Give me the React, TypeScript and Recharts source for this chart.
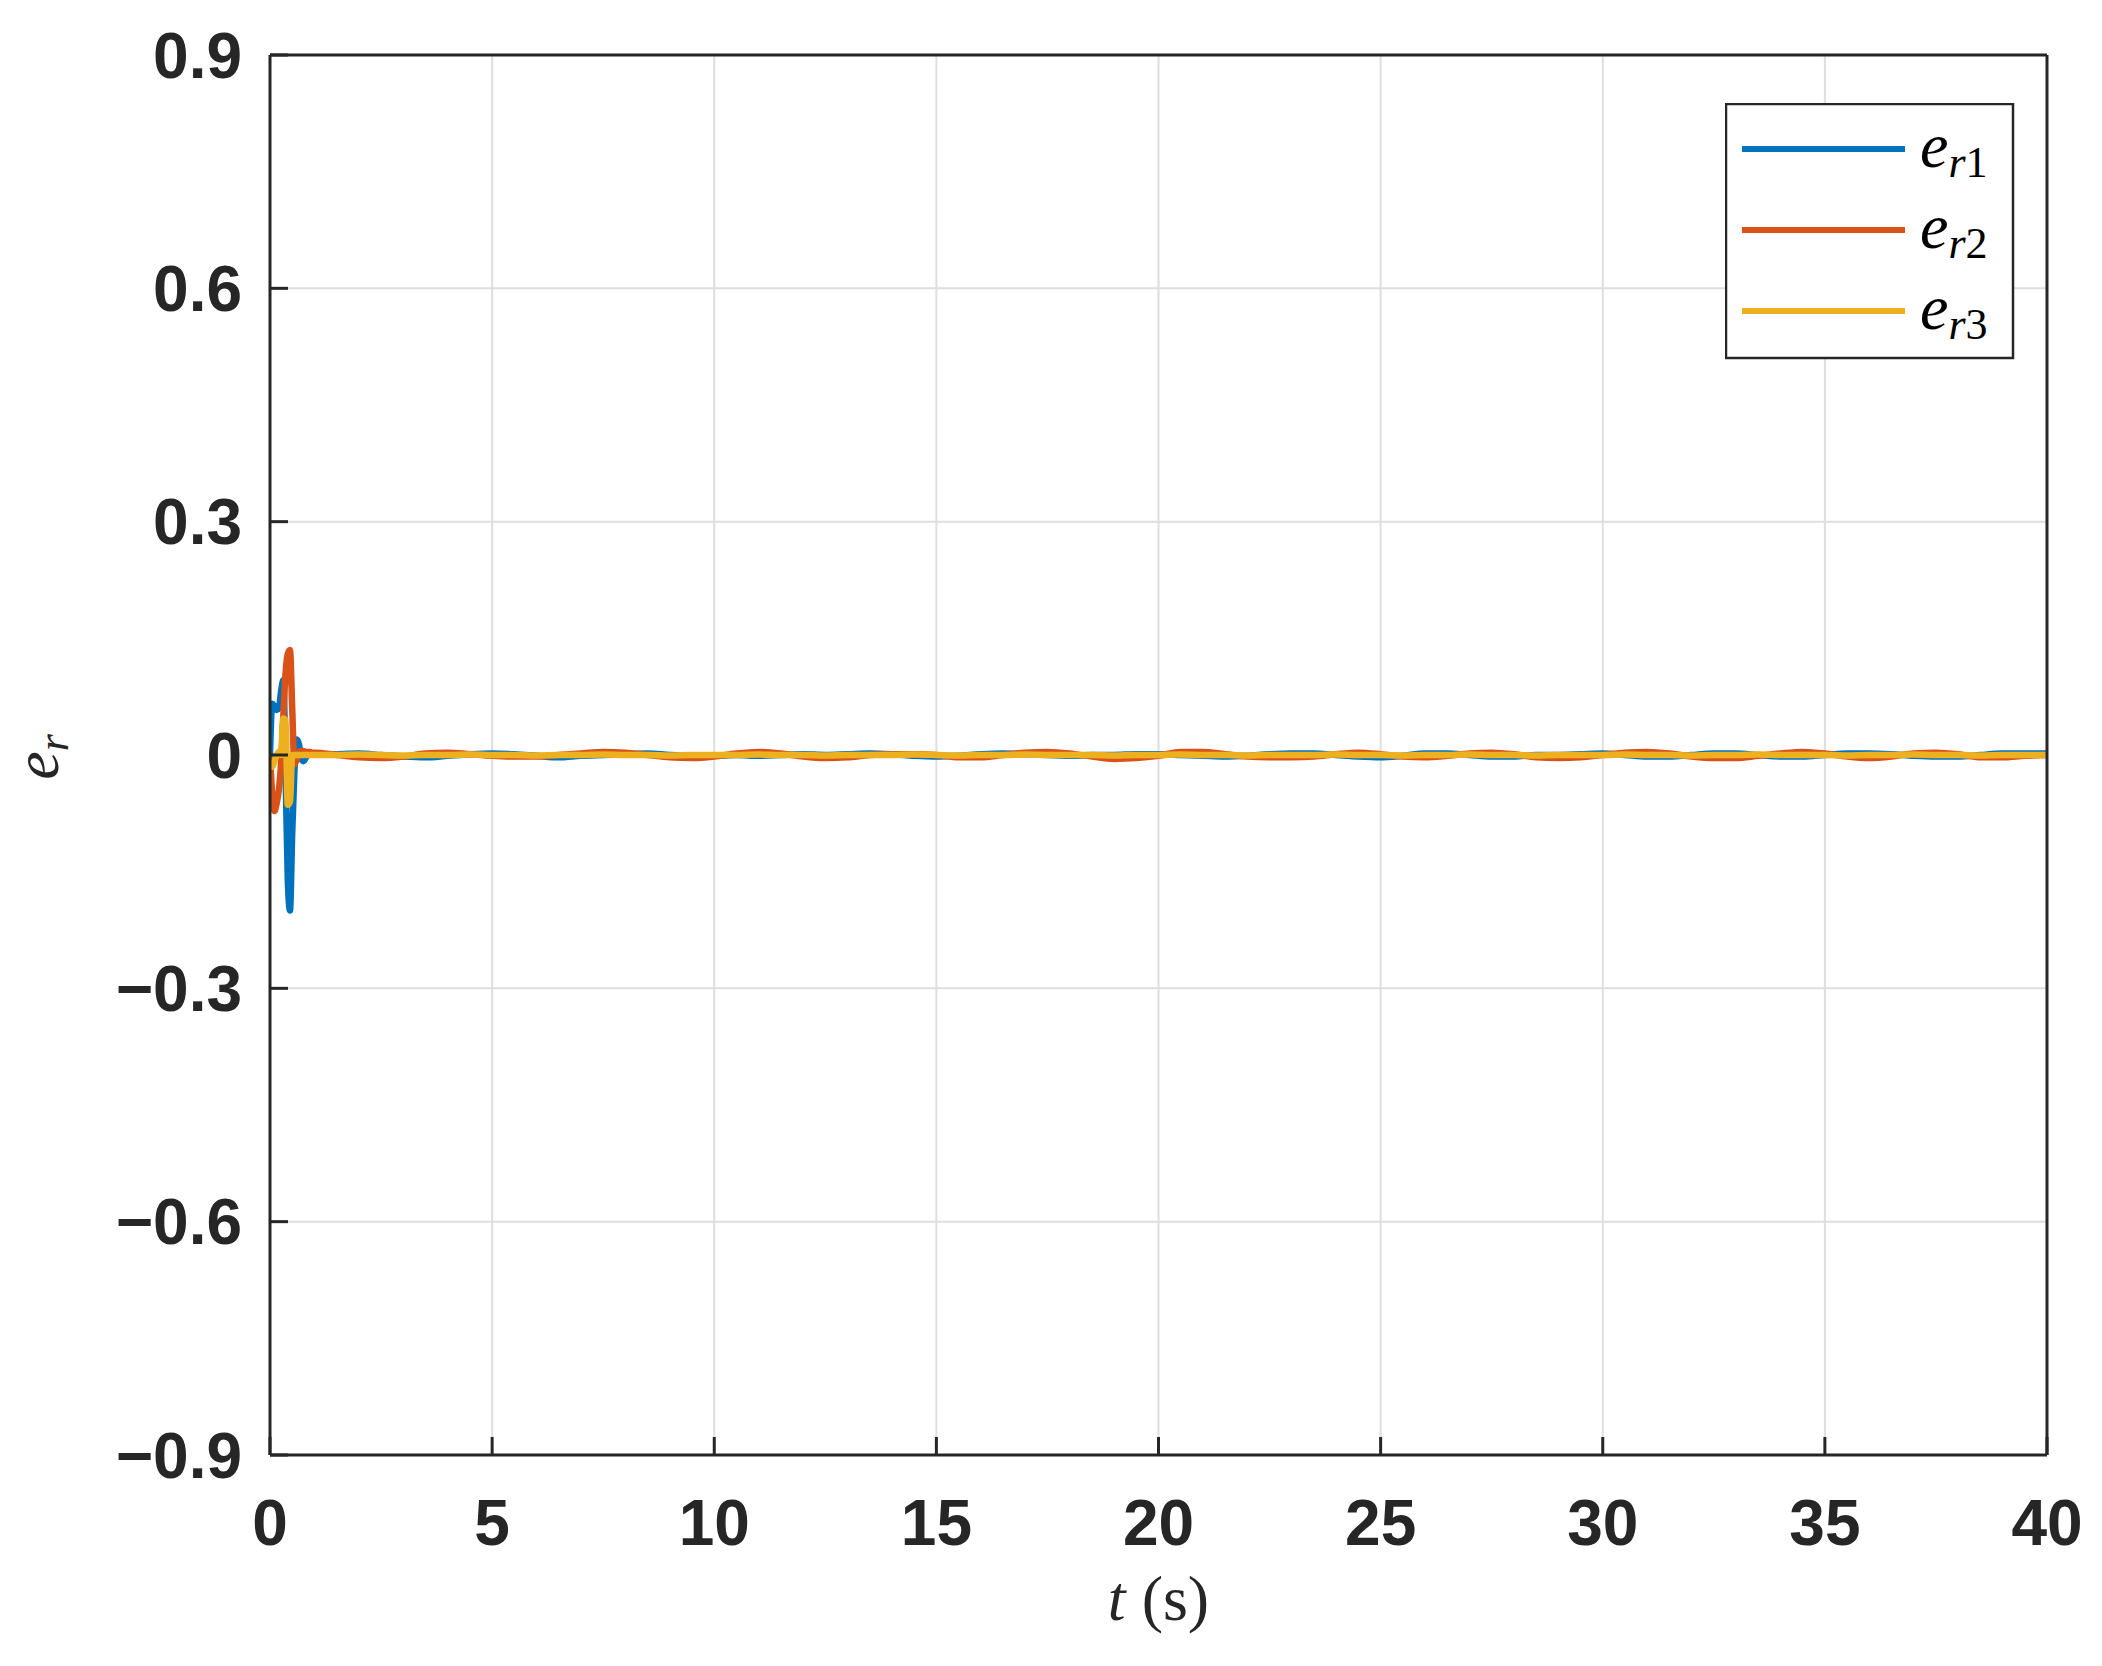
import React from 'react';
import { LineChart, Line, XAxis, YAxis, CartesianGrid, Legend, Label } from 'recharts';

// time samples (s): fine during the initial transient, coarser afterwards
const timeTransient = [0, 0.05, 0.1, 0.15, 0.2, 0.25, 0.3, 0.35, 0.4, 0.45, 0.5, 0.55, 0.6, 0.65, 0.7, 0.75, 0.8, 0.85, 0.9, 0.95, 1.0];
const timeSteady = [
  1.5, 2, 2.5, 3, 3.5, 4, 4.5, 5, 5.5, 6, 6.5, 7, 7.5, 8, 8.5, 9, 9.5, 10,
  10.5, 11, 11.5, 12, 12.5, 13, 13.5, 14, 14.5, 15, 15.5, 16, 16.5, 17, 17.5, 18, 18.5, 19, 19.5, 20,
  20.5, 21, 21.5, 22, 22.5, 23, 23.5, 24, 24.5, 25, 25.5, 26, 26.5, 27, 27.5, 28, 28.5, 29, 29.5, 30,
  30.5, 31, 31.5, 32, 32.5, 33, 33.5, 34, 34.5, 35, 35.5, 36, 36.5, 37, 37.5, 38, 38.5, 39, 39.5, 40,
];

// e_r1
const er1Transient = [0.0, 0.066, 0.063, 0.058, 0.06, 0.082, 0.096, -0.02, -0.16, -0.2, -0.1, -0.02, 0.02, 0.014, -0.004, -0.008, -0.004, 0.0, 0.001, 0.002, 0.001];
const er1Steady = [
  0.001, 0.002, 0.0, -0.002, -0.003, -0.001, 0.001, 0.002, 0.001, -0.001, -0.003, -0.001, 0.0, 0.001, 0.002, 0.0, -0.001, -0.001,
  0.0, -0.001, 0.0, 0.001, 0.0, 0.001, 0.002, 0.001, -0.001, -0.002, -0.001, 0.001, 0.002, 0.001, 0.0, -0.001, 0.0, 0.0, 0.001, 0.001,
  0.0, -0.001, -0.002, -0.001, 0.001, 0.002, 0.002, 0.0, -0.002, -0.003, -0.001, 0.002, 0.002, 0.0, -0.002, -0.002, 0.0, 0.0, 0.001, 0.002,
  0.0, -0.002, -0.002, 0.0, 0.002, 0.002, 0.0, -0.002, -0.002, 0.0, 0.002, 0.002, 0.001, -0.001, -0.002, -0.002, 0.0, 0.002, 0.002, 0.002,
];

// e_r2
const er2Transient = [0.0, -0.05, -0.072, -0.062, -0.045, -0.01, 0.05, 0.105, 0.13, 0.135, 0.06, -0.012, -0.006, 0.003, 0.005, 0.005, 0.004, 0.004, 0.004, 0.003, 0.003];
const er2Steady = [
  0.0, -0.003, -0.004, -0.002, 0.002, 0.003, 0.001, -0.001, -0.002, -0.002, 0.0, 0.002, 0.004, 0.003, 0.0, -0.003, -0.004, -0.002,
  0.002, 0.004, 0.002, -0.002, -0.004, -0.003, 0.0, 0.001, 0.001, 0.0, -0.003, -0.003, 0.0, 0.003, 0.004, 0.002, -0.002, -0.005, -0.004, -0.001,
  0.004, 0.004, 0.001, -0.002, -0.003, -0.003, -0.002, 0.001, 0.003, 0.001, -0.002, -0.003, -0.001, 0.002, 0.003, 0.001, -0.003, -0.004, -0.003, 0.0,
  0.003, 0.004, 0.002, -0.002, -0.004, -0.004, -0.001, 0.002, 0.004, 0.002, -0.002, -0.004, -0.002, 0.002, 0.003, 0.001, -0.003, -0.003, -0.001, 0.0,
];

// e_r3
const er3Transient = [-0.012, -0.015, -0.008, 0.0, 0.004, 0.0, 0.047, 0.045, -0.064, -0.06, 0.0, 0.0, 0.0, 0.0, 0.0, 0.0, 0.0, 0.0, 0.0, 0.0, 0.0];
const er3Steady = [
  0.0, 0.0005, 0.0, -0.0005, 0.0, 0.0, 0.0005, 0.0, 0.0, -0.0005, 0.0, 0.0, 0.0005, 0.0, 0.0, -0.0005, 0.0, 0.0,
  0.0, 0.0005, 0.0, 0.0, -0.0005, 0.0, 0.0, 0.0, 0.0005, 0.0, -0.0005, 0.0, 0.0, 0.0005, 0.0, 0.0, 0.0, -0.0005, 0.0, 0.0,
  0.0005, 0.0, 0.0, -0.0005, 0.0, 0.0, 0.0, 0.0005, 0.0, 0.0, -0.0005, 0.0, 0.0, 0.0005, 0.0, 0.0, -0.0005, 0.0, 0.0, 0.0,
  0.0005, 0.0, 0.0, -0.0005, 0.0, 0.0, 0.0005, 0.0, 0.0, 0.0, -0.0005, 0.0, 0.0, 0.0005, 0.0, 0.0, -0.0005, 0.0, 0.0, 0.0,
];

const xTicks = [0, 5, 10, 15, 20, 25, 30, 35, 40];
const yTicks = [-0.9, -0.6, -0.3, 0, 0.3, 0.6, 0.9];

const seriesNames = ['1', '2', '3'];
const seriesKeys = ['er1', 'er2', 'er3'];
const seriesColors = ['#0072BD', '#D95319', '#EDB120'];

const time = [...timeTransient, ...timeSteady];
const er1 = [...er1Transient, ...er1Steady];
const er2 = [...er2Transient, ...er2Steady];
const er3 = [...er3Transient, ...er3Steady];
const data = time.map((t, i) => ({ t, er1: er1[i], er2: er2[i], er3: er3[i] }));

const AX = '#262626';
const tickFont = { fontSize: 64, fontWeight: 700, fontFamily: '"Liberation Sans", Arial, sans-serif', fill: AX };

const fmtY = (v: number) => {
  if (Math.abs(v) < 1e-9) return '0';
  return v < 0 ? '\u2212' + Math.abs(v).toFixed(1) : v.toFixed(1);
};

const renderXLabel = (props: any) => {
  const vb = props.viewBox || {};
  const cx = vb.x + vb.width / 2;
  return (
    <text x={cx} y={vb.y + 165} textAnchor="middle" fontFamily='"Liberation Serif", serif' fontSize={64} fill={AX}>
      <tspan fontStyle="italic">t</tspan>
      <tspan> (s)</tspan>
    </text>
  );
};

const renderYLabel = (props: any) => {
  const vb = props.viewBox || {};
  const cx = vb.x + 58;
  const cy = vb.y + vb.height / 2 + 2;
  return (
    <text x={cx} y={cy} transform={`rotate(-90 ${cx} ${cy})`} textAnchor="middle" fontFamily='"Liberation Serif", serif' fontSize={64} fill={AX}>
      <tspan fontStyle="italic">e</tspan>
      <tspan fontStyle="italic" fontSize={44} dy={10}>r</tspan>
    </text>
  );
};

const renderLegend = () => (
  <svg width={290} height={257} style={{ display: 'block' }}>
    <rect x={1} y={1} width={287} height={254} fill="#ffffff" stroke={AX} strokeWidth={2.5} />
    {seriesNames.map((n, i) => (
      <g key={n}>
        <line x1={17} x2={180} y1={46 + 81 * i} y2={46 + 81 * i} stroke={seriesColors[i]} strokeWidth={6} />
        <text x={195} y={64 + 81 * i} fontFamily='"Liberation Serif", serif' fontSize={64} fill="#000">
          <tspan fontStyle="italic">e</tspan>
          <tspan fontStyle="italic" fontSize={44} dy={10}>r</tspan>
          <tspan fontSize={44}>{n}</tspan>
        </text>
      </g>
    ))}
  </svg>
);

export default function App() {
  return (
    <div style={{ position: 'absolute', left: 0, top: 0, background: '#fff' }}>
      <LineChart width={2102} height={1666} data={data} margin={{ top: 0, right: 0, bottom: 0, left: 0 }}>
        <CartesianGrid xAxisId="b" yAxisId="l" stroke="#dedede" strokeWidth={2} />
        <XAxis
          xAxisId="b"
          dataKey="t"
          type="number"
          domain={[0, 40]}
          ticks={xTicks}
          interval={0}
          allowDataOverflow
          height={211}
          tickSize={-18}
          tickMargin={63}
          axisLine={{ stroke: AX, strokeWidth: 3 }}
          tickLine={{ stroke: AX, strokeWidth: 3 }}
          tick={tickFont}
        >
          <Label content={renderXLabel} />
        </XAxis>
        <XAxis
          xAxisId="top"
          orientation="top"
          type="number"
          domain={[0, 40]}
          ticks={xTicks}
          interval={0}
          allowDataOverflow
          height={55}
          tickSize={-18}
          tick={false}
          axisLine={{ stroke: AX, strokeWidth: 3 }}
          tickLine={{ stroke: AX, strokeWidth: 3 }}
        />
        <YAxis
          yAxisId="l"
          type="number"
          domain={[-0.9, 0.9]}
          ticks={yTicks}
          interval={0}
          allowDataOverflow
          width={270}
          tickSize={-18}
          tickMargin={46}
          tickFormatter={fmtY}
          axisLine={{ stroke: AX, strokeWidth: 3 }}
          tickLine={{ stroke: AX, strokeWidth: 3 }}
          tick={tickFont}
        >
          <Label content={renderYLabel} />
        </YAxis>
        <YAxis
          yAxisId="r"
          orientation="right"
          type="number"
          domain={[-0.9, 0.9]}
          ticks={yTicks}
          interval={0}
          allowDataOverflow
          width={55}
          tickSize={-18}
          tick={false}
          axisLine={{ stroke: AX, strokeWidth: 3 }}
          tickLine={{ stroke: AX, strokeWidth: 3 }}
        />
        {seriesKeys.map((k, i) => (
          <Line
            key={k}
            xAxisId="b"
            yAxisId="l"
            dataKey={k}
            type="monotone"
            stroke={seriesColors[i]}
            strokeWidth={6.5}
            dot={false}
            activeDot={false}
            isAnimationActive={false}
          />
        ))}
        <Legend
          layout="vertical"
          align="center"
          verticalAlign="middle"
          content={renderLegend}
          wrapperStyle={{ position: 'absolute', left: 1725, top: 103, width: 290, height: 257, lineHeight: 0 }}
        />
      </LineChart>
    </div>
  );
}
